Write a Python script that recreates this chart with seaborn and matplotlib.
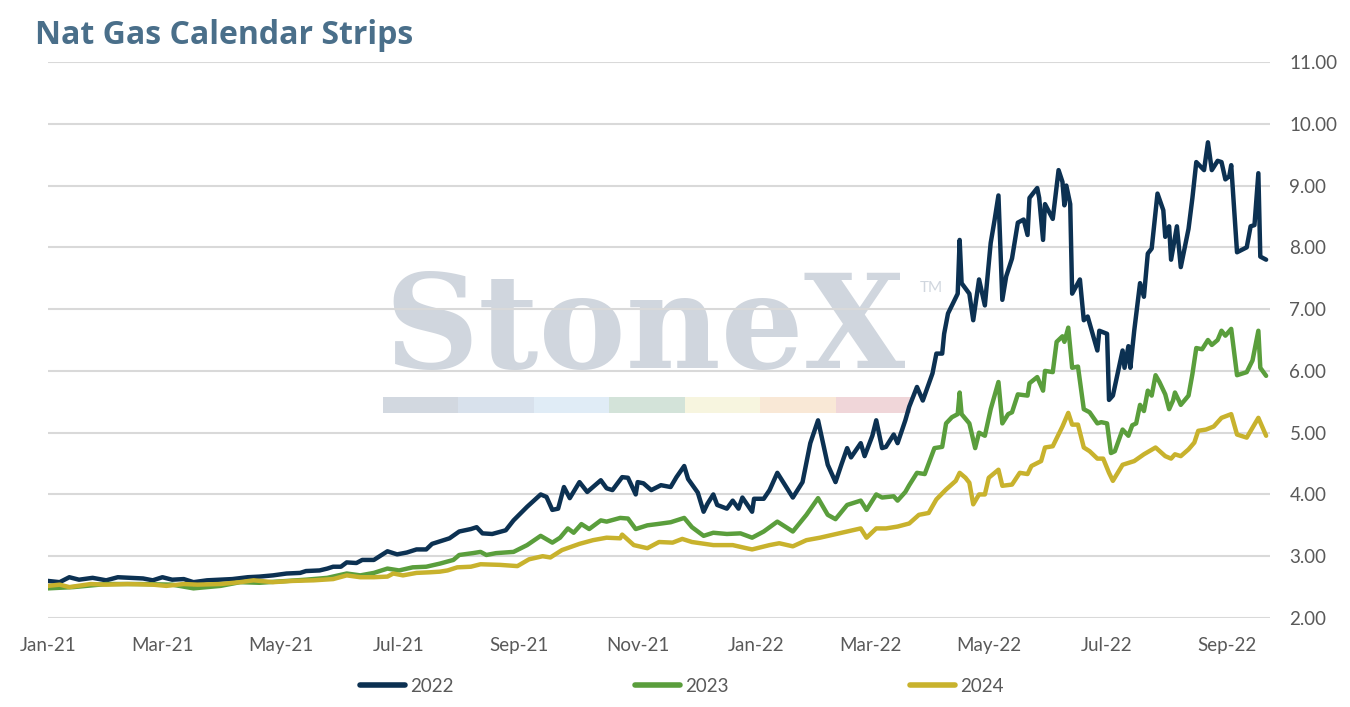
import numpy as np
import pandas as pd
import matplotlib
matplotlib.use("Agg")
import matplotlib.pyplot as plt
import matplotlib.dates as mdates
import matplotlib.patches as mpatches
import seaborn as sns

# ---------------- data ----------------
dates_2022 = ["2021-01-01","2021-01-07","2021-01-12","2021-01-17","2021-01-24","2021-01-31","2021-02-06","2021-02-12",
"2021-02-19","2021-02-24","2021-03-01","2021-03-06","2021-03-12","2021-03-17","2021-03-24","2021-03-31","2021-04-06",
"2021-04-14","2021-04-20","2021-04-27","2021-05-04","2021-05-11","2021-05-14","2021-05-21","2021-05-25","2021-05-28",
"2021-06-01","2021-06-04","2021-06-09","2021-06-12","2021-06-18","2021-06-21","2021-06-25","2021-06-30","2021-07-05",
"2021-07-10","2021-07-15","2021-07-18","2021-07-24","2021-07-27","2021-08-01","2021-08-07","2021-08-10","2021-08-13",
"2021-08-18","2021-08-25","2021-08-29","2021-09-05","2021-09-12","2021-09-15","2021-09-18","2021-09-21","2021-09-24",
"2021-09-27","2021-10-02","2021-10-06","2021-10-13","2021-10-16","2021-10-19","2021-10-24","2021-10-27","2021-10-31",
"2021-11-01","2021-11-04","2021-11-08","2021-11-13","2021-11-18","2021-11-21","2021-11-25","2021-11-27","2021-12-02",
"2021-12-05","2021-12-07","2021-12-10","2021-12-12","2021-12-17","2021-12-20","2021-12-23","2021-12-25","2021-12-30",
"2021-12-31","2022-01-05","2022-01-08","2022-01-12","2022-01-15","2022-01-20","2022-01-25","2022-01-29","2022-02-02",
"2022-02-07","2022-02-11","2022-02-14","2022-02-17","2022-02-19","2022-02-24","2022-02-26","2022-03-02","2022-03-04",
"2022-03-07","2022-03-09","2022-03-13","2022-03-15","2022-03-19","2022-03-21","2022-03-25","2022-03-28","2022-04-02",
"2022-04-04","2022-04-07","2022-04-08","2022-04-10","2022-04-15","2022-04-16","2022-04-17","2022-04-21","2022-04-23",
"2022-04-26","2022-04-29","2022-05-02","2022-05-04","2022-05-06","2022-05-08","2022-05-10","2022-05-13","2022-05-16",
"2022-05-19","2022-05-21","2022-05-22","2022-05-26","2022-05-27","2022-05-29","2022-05-30","2022-06-03","2022-06-06",
"2022-06-08","2022-06-09","2022-06-10","2022-06-12","2022-06-13","2022-06-17","2022-06-19","2022-06-21","2022-06-26",
"2022-06-27","2022-07-01","2022-07-02","2022-07-04","2022-07-09","2022-07-10","2022-07-12","2022-07-13","2022-07-15",
"2022-07-18","2022-07-20","2022-07-22","2022-07-24","2022-07-27","2022-07-30","2022-07-31","2022-08-02","2022-08-03",
"2022-08-06","2022-08-08","2022-08-12","2022-08-14","2022-08-16","2022-08-20","2022-08-22","2022-08-24","2022-08-27",
"2022-08-29","2022-08-31","2022-09-02","2022-09-03","2022-09-06","2022-09-11","2022-09-13","2022-09-15","2022-09-17",
"2022-09-18","2022-09-21"]
values_2022 = [2.60,2.58,2.66,2.62,2.65,2.61,2.66,2.65,
2.64,2.61,2.66,2.62,2.63,2.58,2.61,2.62,2.63,
2.66,2.67,2.69,2.72,2.73,2.76,2.77,2.80,2.83,
2.83,2.90,2.89,2.94,2.94,3.00,3.08,3.03,3.06,
3.11,3.11,3.20,3.26,3.29,3.40,3.44,3.47,3.37,
3.36,3.42,3.58,3.80,4.00,3.96,3.75,3.77,4.12,
3.94,4.20,4.04,4.23,4.10,4.07,4.28,4.27,4.00,
4.20,4.18,4.07,4.15,4.12,4.28,4.46,4.25,4.03,
3.72,3.85,4.00,3.83,3.77,3.90,3.77,3.95,3.72,
3.93,3.93,4.07,4.35,4.20,3.95,4.20,4.83,5.20,
4.48,4.20,4.48,4.75,4.60,4.83,4.62,4.95,5.20,
4.75,4.77,4.97,4.83,5.20,5.42,5.74,5.52,5.96,
6.28,6.28,6.60,6.93,7.25,8.12,7.42,7.25,6.82,
7.48,7.06,8.07,8.44,8.84,7.15,7.53,7.82,8.40,
8.45,8.20,8.80,8.96,8.80,8.12,8.70,8.46,9.25,
9.06,8.68,9.00,8.70,7.25,7.48,6.82,6.88,6.33,
6.65,6.60,5.53,5.60,6.33,6.05,6.40,6.05,6.65,
7.42,7.20,7.90,7.98,8.87,8.60,8.17,8.34,7.80,
8.34,7.68,8.30,8.80,9.38,9.25,9.70,9.25,9.40,
9.38,9.10,9.15,9.33,7.92,8.00,8.34,8.36,9.20,
7.85,7.80]

dates_2023 = ["2021-01-01","2021-01-14","2021-01-31","2021-02-17","2021-03-06","2021-03-17","2021-03-31","2021-04-10",
"2021-04-20","2021-05-04","2021-05-14","2021-05-25","2021-06-04","2021-06-11","2021-06-18","2021-06-25","2021-07-01",
"2021-07-08","2021-07-15","2021-07-22","2021-07-29","2021-08-01","2021-08-08","2021-08-12","2021-08-15","2021-08-20",
"2021-08-29","2021-09-05","2021-09-12","2021-09-18","2021-09-22","2021-09-26","2021-09-29","2021-10-03","2021-10-07",
"2021-10-13","2021-10-16","2021-10-23","2021-10-27","2021-10-31","2021-11-06","2021-11-11","2021-11-18","2021-11-25",
"2021-11-29","2021-12-05","2021-12-10","2021-12-17","2021-12-24","2021-12-30","2022-01-05","2022-01-12","2022-01-20",
"2022-01-27","2022-02-02","2022-02-07","2022-02-11","2022-02-17","2022-02-24","2022-02-27","2022-03-04","2022-03-07",
"2022-03-13","2022-03-15","2022-03-19","2022-03-21","2022-03-25","2022-03-29","2022-04-03","2022-04-07","2022-04-09",
"2022-04-12","2022-04-15","2022-04-16","2022-04-17","2022-04-21","2022-04-24","2022-04-26","2022-04-29","2022-05-02",
"2022-05-06","2022-05-08","2022-05-11","2022-05-13","2022-05-16","2022-05-21","2022-05-22","2022-05-26","2022-05-29",
"2022-05-30","2022-06-03","2022-06-05","2022-06-08","2022-06-09","2022-06-11","2022-06-13","2022-06-16","2022-06-19",
"2022-06-22","2022-06-26","2022-06-28","2022-07-01","2022-07-03","2022-07-05","2022-07-09","2022-07-12","2022-07-14",
"2022-07-16","2022-07-18","2022-07-20","2022-07-22","2022-07-24","2022-07-26","2022-07-28","2022-07-31","2022-08-02",
"2022-08-04","2022-08-05","2022-08-07","2022-08-08","2022-08-12","2022-08-14","2022-08-16","2022-08-19","2022-08-22",
"2022-08-24","2022-08-27","2022-08-29","2022-08-31","2022-09-03","2022-09-06","2022-09-11","2022-09-14","2022-09-17",
"2022-09-18","2022-09-21"]
values_2023 = [2.48,2.50,2.55,2.55,2.54,2.48,2.52,2.58,
2.57,2.60,2.62,2.65,2.72,2.69,2.73,2.80,2.77,
2.82,2.83,2.88,2.94,3.02,3.05,3.07,3.02,3.05,
3.07,3.18,3.33,3.22,3.30,3.45,3.38,3.52,3.44,
3.58,3.56,3.62,3.61,3.44,3.50,3.52,3.55,3.62,
3.47,3.33,3.38,3.36,3.37,3.30,3.40,3.56,3.40,
3.67,3.94,3.67,3.60,3.83,3.90,3.75,4.00,3.95,
3.97,3.90,4.04,4.15,4.35,4.33,4.75,4.77,5.15,
5.25,5.30,5.65,5.30,5.15,4.75,5.00,4.95,5.38,
5.82,5.15,5.30,5.33,5.62,5.60,5.80,5.90,5.68,
6.00,5.98,6.47,6.56,6.47,6.70,6.05,6.07,5.38,
5.33,5.15,5.17,5.15,4.67,4.70,5.05,4.95,5.12,
5.15,5.45,5.35,5.68,5.60,5.93,5.82,5.62,5.38,
5.52,5.65,5.52,5.45,5.60,5.95,6.37,6.35,6.50,
6.42,6.50,6.65,6.57,6.68,5.93,5.98,6.17,6.65,
6.05,5.92]

dates_2024 = ["2021-01-01","2021-01-07","2021-01-12","2021-01-23","2021-01-31","2021-02-11","2021-02-24","2021-03-03",
"2021-03-12","2021-03-19","2021-03-31","2021-04-10","2021-04-17","2021-04-27","2021-05-07","2021-05-18","2021-05-28",
"2021-06-04","2021-06-11","2021-06-18","2021-06-25","2021-06-28","2021-07-03","2021-07-10","2021-07-17","2021-07-22",
"2021-07-26","2021-07-31","2021-08-07","2021-08-12","2021-08-22","2021-08-31","2021-09-06","2021-09-13","2021-09-17",
"2021-09-23","2021-10-02","2021-10-09","2021-10-16","2021-10-23","2021-10-24","2021-10-30","2021-11-06","2021-11-12",
"2021-11-19","2021-11-24","2021-11-29","2021-12-10","2021-12-20","2021-12-27","2021-12-30","2022-01-08","2022-01-13",
"2022-01-20","2022-01-27","2022-02-03","2022-02-10","2022-02-17","2022-02-24","2022-02-27","2022-03-04","2022-03-09",
"2022-03-15","2022-03-21","2022-03-26","2022-03-31","2022-04-04","2022-04-09","2022-04-14","2022-04-16","2022-04-19",
"2022-04-21","2022-04-23","2022-04-26","2022-04-29","2022-05-01","2022-05-06","2022-05-08","2022-05-13","2022-05-17",
"2022-05-21","2022-05-23","2022-05-28","2022-05-30","2022-06-03","2022-06-08","2022-06-11","2022-06-13","2022-06-16",
"2022-06-19","2022-06-22","2022-06-26","2022-06-29","2022-07-02","2022-07-04","2022-07-09","2022-07-15","2022-07-20",
"2022-07-26","2022-07-31","2022-08-03","2022-08-05","2022-08-08","2022-08-12","2022-08-15","2022-08-17","2022-08-21",
"2022-08-25","2022-08-29","2022-09-03","2022-09-06","2022-09-11","2022-09-17","2022-09-21"]
values_2024 = [2.52,2.54,2.50,2.55,2.54,2.55,2.54,2.52,
2.55,2.54,2.55,2.58,2.61,2.58,2.60,2.61,2.63,
2.69,2.66,2.66,2.67,2.72,2.69,2.73,2.74,2.75,
2.77,2.82,2.83,2.87,2.86,2.84,2.95,3.00,2.98,
3.10,3.20,3.26,3.30,3.29,3.35,3.18,3.13,3.23,
3.22,3.28,3.23,3.18,3.18,3.13,3.11,3.18,3.21,
3.16,3.26,3.30,3.35,3.40,3.45,3.30,3.45,3.45,
3.48,3.53,3.67,3.70,3.92,4.08,4.22,4.35,4.27,
4.19,3.84,4.00,4.00,4.27,4.40,4.14,4.16,4.35,
4.33,4.46,4.54,4.76,4.78,5.10,5.32,5.13,5.13,
4.76,4.70,4.58,4.58,4.35,4.22,4.48,4.54,4.65,
4.76,4.62,4.58,4.65,4.62,4.73,4.84,5.03,5.05,
5.10,5.24,5.30,4.97,4.92,5.24,4.95]

series_names = ["2022", "2023", "2024"]
series_colors = ["#0c3152", "#5a9e3c", "#c8b22d"]
y_ticks = [2, 3, 4, 5, 6, 7, 8, 9, 10, 11]
title_text = "Nat Gas Calendar Strips"

# ---------------- build long table ----------------
frames = []
for name, d, v in zip(series_names, [dates_2022, dates_2023, dates_2024],
                      [values_2022, values_2023, values_2024]):
    frames.append(pd.DataFrame({"date": pd.to_datetime(d), "price": v, "strip": name}))
df = pd.concat(frames, ignore_index=True)

# ---------------- style ----------------
sns.set_theme(style="white")
plt.rcParams["font.family"] = ["Lato", "DejaVu Sans"]

fig = plt.figure(figsize=(13.5, 7.07), dpi=100)
ax = fig.add_axes([48/1350, 1 - 618/707, (1270 - 48)/1350, (618 - 62)/707])
ax.set_zorder(2)
ax.set_facecolor("none")

# watermark (decorative logo, behind the plot)
fig.text(645/1350, 1 - 368/707, "StoneX", fontsize=94, family=["DejaVu Serif"], fontweight="bold",
         color="#d0d6de", ha="center", va="baseline", zorder=0)
fig.text(931/1350, 1 - 288/707, "TM", fontsize=11, color="#d0d6de", ha="center", va="center", zorder=0)
strip_cols = ["#d2d8e0", "#d8e1ec", "#e0ecf6", "#d3e3d9", "#f7f5df", "#f9e8d6", "#f0d6d9"]
seg_w = (911 - 383) / 1350 / len(strip_cols)
for i, c in enumerate(strip_cols):
    fig.patches.append(mpatches.Rectangle((383/1350 + i*seg_w, 1 - 413/707), seg_w, 16/707,
                                          transform=fig.transFigure, facecolor=c,
                                          edgecolor="none", zorder=0))

sns.lineplot(data=df, x="date", y="price", hue="strip", palette=dict(zip(series_names, series_colors)),
             hue_order=series_names, estimator=None, sort=True, linewidth=3.2, ax=ax, legend=False,
             zorder=3)

ax.set_ylim(2, 11)
ax.set_xlim(pd.Timestamp("2021-01-01"), pd.Timestamp("2022-09-23"))
ax.set_yticks(y_ticks)
ax.yaxis.set_major_formatter(matplotlib.ticker.FormatStrFormatter("%.2f"))
ax.yaxis.tick_right()
ax.xaxis.set_major_locator(mdates.MonthLocator(bymonth=[1, 3, 5, 7, 9, 11]))
ax.xaxis.set_major_formatter(mdates.DateFormatter("%b-%y"))
ax.tick_params(axis="y", length=0, pad=14, labelsize=13.5, labelcolor="#595959")
ax.tick_params(axis="x", length=0, pad=14, labelsize=13.5, labelcolor="#595959")
ax.grid(axis="y", color="#d9d9d9", linewidth=1.5, zorder=0)
ax.grid(axis="x", visible=False)
for s in ax.spines.values():
    s.set_visible(False)
ax.set_xlabel("")
ax.set_ylabel("")

fig.text(35/1350, 1 - 36/707, title_text, fontsize=23, fontweight="bold", color="#4a6f8a",
         family=["Open Sans", "DejaVu Sans"], ha="left", va="center")

handles = [matplotlib.lines.Line2D([], [], color=c, linewidth=4, solid_capstyle="round")
           for c in series_colors]
fig.legend(handles, series_names, loc="center", bbox_to_anchor=(0.505, 1 - 686/707), ncol=3,
           frameon=False, fontsize=13.5, handlelength=2.4, handletextpad=0.25, columnspacing=9.7,
           labelcolor="#595959")

fig.savefig("out.png", dpi=100)
